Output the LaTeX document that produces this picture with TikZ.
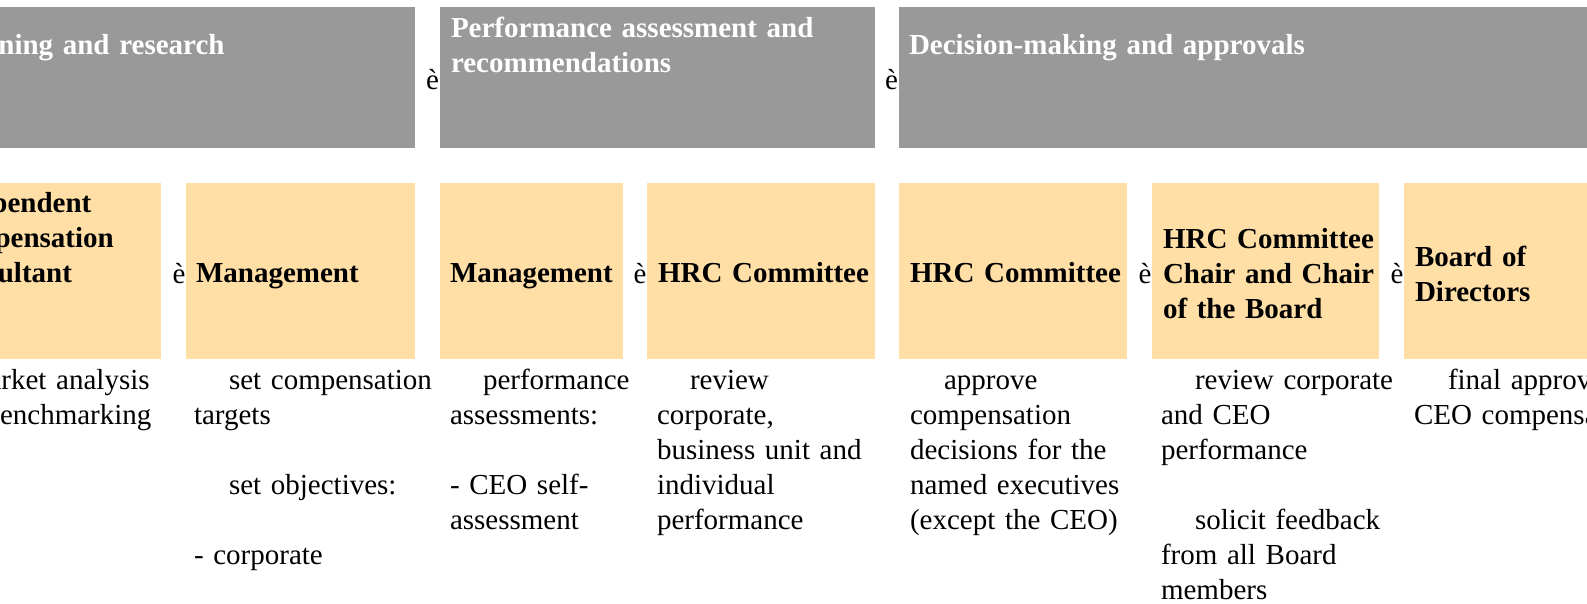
\documentclass[tikz,border=0pt]{standalone}
\usepackage{fontspec}
\setmainfont{Liberation Serif}
\definecolor{hdrgray}{HTML}{999999}
\definecolor{boxyel}{HTML}{FFDFA6}
\begin{document}
\begin{tikzpicture}[x=1pt,y=-1pt,
  hdrbox/.style={fill=hdrgray},
  ybox/.style={fill=boxyel},
  txt/.style={inner sep=0pt, outer sep=0pt, anchor=base west, align=left, text width=400pt, font=\fontsize{29}{35}\selectfont},
  htxt/.style={txt, text=white, font=\fontsize{29}{35}\selectfont\bfseries},
  btxt/.style={txt, font=\fontsize{29}{35}\selectfont\bfseries},
  arrowglyph/.style={inner sep=0pt, outer sep=0pt, anchor=base east, font=\fontsize{29}{35}\selectfont}
]
\useasboundingbox (0,0) rectangle (1587,604);
\clip (0,0) rectangle (1587,604);
\fill[white] (0,0) rectangle (1587,604);
% header boxes
\fill[hdrbox] (-68,7) rectangle (415,148);
\fill[hdrbox] (440,7) rectangle (875,148);
\fill[hdrbox] (899,7) rectangle (1650,148);
% yellow boxes
\fill[ybox] (-68,183) rectangle (161,359);
\fill[ybox] (186,183) rectangle (415,359);
\fill[ybox] (440,183) rectangle (623,359);
\fill[ybox] (647,183) rectangle (875,359);
\fill[ybox] (899,183) rectangle (1127,359);
\fill[ybox] (1152,183) rectangle (1379,359);
\fill[ybox] (1404,183) rectangle (1650,359);
% header texts
\node[htxt] (h1) at (-58,55) {Planning and research};
\node[htxt] (h2) at (451,37.5) {Performance assessment and\\recommendations};
\node[htxt] (h3) at (909,55) {Decision-making and approvals};
\node[arrowglyph] (ha1) at (439,89.5) {è};
\node[arrowglyph] (ha2) at (898,89.5) {è};
% box texts
\node[btxt] (b1) at (-65,212.5) {Independent\\Compensation\\Consultant};
\node[btxt] (b2) at (196,282.5) {Management};
\node[btxt] (b3) at (450,282.5) {Management};
\node[btxt] (b4) at (658,282.5) {HRC Committee};
\node[btxt] (b5) at (910,282.5) {HRC Committee};
\node[btxt] (b6) at (1163,248) {HRC Committee\\Chair and Chair\\of the Board};
\node[btxt] (b7) at (1415,266) {Board of\\Directors};
\node[arrowglyph] (ba1) at (185.5,283) {è};
\node[arrowglyph] (ba2) at (646.5,283) {è};
\node[arrowglyph] (ba3) at (1151.5,283) {è};
\node[arrowglyph] (ba4) at (1403.5,283) {è};
% body texts
\node[txt] (t1) at (-66,389.5) {\hspace*{32pt}market analysis\\and benchmarking};
\node[txt] (t2) at (194,389.5) {\hspace*{35pt}set compensation\\targets\\~\\\hspace*{35pt}set objectives:\\~\\- corporate};
\node[txt] (t3) at (450,389.5) {\hspace*{33pt}performance\\assessments:\\~\\- CEO self-\\assessment};
\node[txt] (t4) at (657,389.5) {\hspace*{33pt}review\\corporate,\\business unit and\\individual\\performance};
\node[txt] (t5) at (910,389.5) {\hspace*{34pt}approve\\compensation\\decisions for the\\named executives\\(except the CEO)};
\node[txt] (t6) at (1161,389.5) {\hspace*{34pt}review corporate\\and CEO\\performance\\~\\\hspace*{34pt}solicit feedback\\from all Board\\members};
\node[txt] (t7) at (1414,389.5) {\hspace*{34pt}final approval of\\CEO compensation};
\end{tikzpicture}
\end{document}
